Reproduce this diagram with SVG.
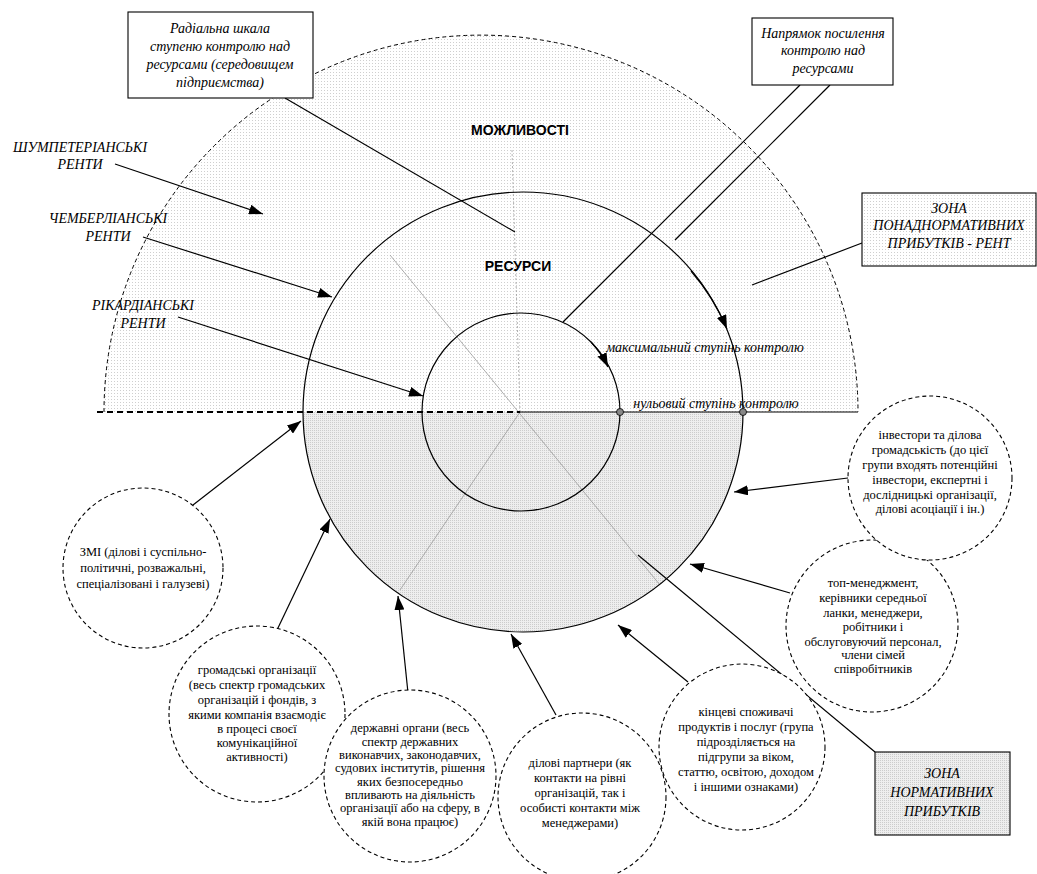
<svg xmlns="http://www.w3.org/2000/svg" width="1037" height="874" viewBox="0 0 1037 874">
<defs>
<pattern id="dotL" width="3" height="3" patternUnits="userSpaceOnUse"><rect width="3" height="3" fill="#ffffff"/><rect width="1" height="1" fill="#cfcfcf"/></pattern>
<pattern id="dotD" width="2" height="2" patternUnits="userSpaceOnUse"><rect width="2" height="2" fill="#eeeeee"/><rect width="1" height="1" fill="#cccccc"/></pattern>
<marker id="ah" viewBox="0 0 14 10" refX="14" refY="5" markerWidth="14" markerHeight="10" markerUnits="userSpaceOnUse" orient="auto"><path d="M0,0 L14,5 L0,10 z" fill="#000"/></marker>
</defs>
<style>
.ln{stroke:#000;stroke-width:1.2;fill:none}
.gl{stroke:#999;stroke-width:0.8;fill:none}
.ci{stroke:#000;stroke-width:1.1;fill:#fff;stroke-dasharray:4,3}
.it{font-style:italic;font-size:14px;fill:#000;text-anchor:middle}
.tx{font-size:12.5px;fill:#000;text-anchor:middle}
.bd{font-weight:bold;font-size:14px;fill:#000;text-anchor:middle}
.bx{stroke:#000;stroke-width:1.1}
</style>

<g id="zones">
<path d="M104 412 A377 377 0 0 1 858 412 Z" fill="url(#dotL)"/>
<path d="M303 412 A220 220 0 0 0 743 412 Z" fill="url(#dotD)"/>
<path d="M104 412 A377 377 0 0 1 858 412" fill="none" stroke="#000" stroke-width="1" stroke-dasharray="4,3"/>
<line x1="390" y1="255" x2="660" y2="585" class="gl"/>
<line x1="520" y1="412" x2="400" y2="590" class="gl"/>
<line x1="520" y1="412" x2="512" y2="150" class="gl" stroke-dasharray="2,2"/>
<line x1="97" y1="412" x2="520" y2="412" stroke="#000" stroke-width="2" stroke-dasharray="6,4"/>
<line x1="520" y1="412" x2="858" y2="412" stroke="#000" stroke-width="1.2"/>
<circle cx="523" cy="412" r="220" class="ln"/>
<circle cx="521" cy="412" r="99" class="ln"/>
<circle cx="620" cy="412" r="3.5" fill="#888" stroke="#000" stroke-width="0.8"/>
<circle cx="743" cy="412" r="3.5" fill="#888" stroke="#000" stroke-width="0.8"/>
<g font-family="Liberation Sans, Arial, sans-serif">
<text x="520" y="135" class="bd">МОЖЛИВОСТІ</text>
<text x="518" y="271" class="bd">РЕСУРСИ</text>
</g>
<g font-family="Liberation Serif, Times New Roman, DejaVu Serif, serif">
<text x="705" y="352" class="it" font-size="14.5">максимальний ступінь контролю</text>
<text x="716" y="408" class="it" font-size="14.5">нульовий ступінь контролю</text>
</g>
</g>

<g id="connectors">
<path d="M591 342 A99 99 0 0 1 608 367" class="ln" marker-end="url(#ah)"/>
<path d="M691 271 A220 220 0 0 1 727 329" class="ln" marker-end="url(#ah)"/>
<line x1="115" y1="164" x2="263" y2="214" class="ln" marker-end="url(#ah)"/>
<line x1="143" y1="237" x2="332" y2="297" class="ln" marker-end="url(#ah)"/>
<line x1="178" y1="317" x2="423" y2="396" class="ln" marker-end="url(#ah)"/>
<line x1="285" y1="98" x2="515" y2="232" class="ln"/>
<line x1="800" y1="85" x2="563" y2="322" class="ln"/>
<line x1="830" y1="85" x2="675" y2="240" class="ln"/>
<line x1="862" y1="243" x2="752" y2="285" class="ln"/>
<line x1="875" y1="752" x2="638" y2="555" class="ln"/>
<line x1="856" y1="477" x2="734" y2="492" class="ln" marker-end="url(#ah)"/>
<line x1="790" y1="593" x2="690" y2="564" class="ln" marker-end="url(#ah)"/>
<line x1="688" y1="682" x2="618" y2="625" class="ln" marker-end="url(#ah)"/>
<line x1="556" y1="715" x2="511" y2="634" class="ln" marker-end="url(#ah)"/>
<line x1="408" y1="693" x2="398" y2="596" class="ln" marker-end="url(#ah)"/>
<line x1="277" y1="630" x2="330" y2="519" class="ln" marker-end="url(#ah)"/>
<line x1="193" y1="505" x2="301" y2="421" class="ln" marker-end="url(#ah)"/>
</g>

<g font-family="Liberation Serif, Times New Roman, DejaVu Serif, serif">
<g id="labels-rents">
<text x="80" y="152" class="it">ШУМПЕТЕРІАНСЬКІ</text>
<text x="80" y="169" class="it">РЕНТИ</text>
<text x="108" y="223" class="it">ЧЕМБЕРЛІАНСЬКІ</text>
<text x="108" y="241" class="it">РЕНТИ</text>
<text x="143" y="310" class="it">РІКАРДІАНСЬКІ</text>
<text x="143" y="328" class="it">РЕНТИ</text>
</g>

<g id="box-scale">
<rect x="128" y="12" width="185" height="86" fill="#fff" class="bx"/>
<text x="220" y="33" class="it" font-size="15">Радіальна шкала</text>
<text x="220" y="51" class="it" font-size="15">ступеню контролю над</text>
<text x="220" y="69" class="it" font-size="15">ресурсами (середовищем</text>
<text x="220" y="87" class="it" font-size="15">підприємства)</text>
</g>

<g id="box-direction">
<rect x="752" y="18" width="141" height="67" fill="#fff" class="bx"/>
<text x="823" y="38" class="it">Напрямок посилення</text>
<text x="823" y="55" class="it">контролю над</text>
<text x="823" y="73" class="it">ресурсами</text>
</g>

<g id="box-super">
<rect x="862" y="193" width="174" height="73" fill="url(#dotL)" class="bx"/>
<text x="949" y="213" class="it" font-size="15.5">ЗОНА</text>
<text x="949" y="230" class="it" font-size="15.5">ПОНАДНОРМАТИВНИХ</text>
<text x="949" y="248" class="it" font-size="15.5">ПРИБУТКІВ - РЕНТ</text>
</g>

<g id="box-normal">
<rect x="875" y="752" width="135" height="83" fill="url(#dotD)" class="bx"/>
<text x="942" y="778" class="it" font-size="16">ЗОНА</text>
<text x="942" y="797" class="it" font-size="16">НОРМАТИВНИХ</text>
<text x="942" y="816" class="it" font-size="16">ПРИБУТКІВ</text>
</g>

<g id="n-zmi">
<circle cx="143" cy="568" r="80" class="ci"/>
<text x="143" y="556" class="tx">ЗМІ (ділові і суспільно-</text>
<text x="143" y="572" class="tx">політичні, розважальні,</text>
<text x="143" y="588" class="tx">спеціалізовані і галузеві)</text>
</g>

<g id="n-civil">
<circle cx="257" cy="714" r="88" class="ci"/>
<text x="257" y="674" class="tx">громадські організації</text>
<text x="257" y="689" class="tx">(весь спектр громадських</text>
<text x="257" y="704" class="tx">організацій і фондів, з</text>
<text x="257" y="719" class="tx">якими компанія взаємодіє</text>
<text x="257" y="733" class="tx">в процесі своєї</text>
<text x="257" y="747" class="tx">комунікаційної</text>
<text x="257" y="761" class="tx">активності)</text>
</g>

<g id="n-gov">
<circle cx="410" cy="776" r="86" class="ci"/>
<text x="410" y="732" class="tx">державні органи (весь</text>
<text x="410" y="746" class="tx">спектр державних</text>
<text x="410" y="759" class="tx">виконавчих, законодавчих,</text>
<text x="410" y="772" class="tx">судових інститутів, рішення</text>
<text x="410" y="786" class="tx">яких безпосередньо</text>
<text x="410" y="799" class="tx">впливають на діяльність</text>
<text x="410" y="812" class="tx">організації або на сферу, в</text>
<text x="410" y="826" class="tx">якій вона працює)</text>
</g>

<g id="n-partners">
<circle cx="582" cy="797" r="84" class="ci"/>
<text x="580" y="767" class="tx">ділові партнери (як</text>
<text x="580" y="782" class="tx">контакти на рівні</text>
<text x="580" y="797" class="tx">організацій, так і</text>
<text x="580" y="812" class="tx">особисті контакти між</text>
<text x="580" y="827" class="tx">менеджерами)</text>
</g>

<g id="n-consumers">
<circle cx="742" cy="747" r="83" class="ci"/>
<text x="746" y="716" class="tx">кінцеві споживачі</text>
<text x="746" y="731" class="tx">продуктів і послуг (група</text>
<text x="746" y="746" class="tx">підрозділяється на</text>
<text x="746" y="761" class="tx">підгрупи за віком,</text>
<text x="746" y="776" class="tx">статтю, освітою, доходом</text>
<text x="746" y="791" class="tx">і іншими ознаками)</text>
</g>

<g id="n-staff">
<circle cx="872" cy="626" r="86" class="ci"/>
<text x="873" y="587" class="tx">топ-менеджмент,</text>
<text x="873" y="602" class="tx">керівники середньої</text>
<text x="873" y="617" class="tx">ланки, менеджери,</text>
<text x="873" y="631" class="tx">робітники і</text>
<text x="873" y="646" class="tx">обслуговуючий персонал,</text>
<text x="873" y="659" class="tx">члени сімей</text>
<text x="873" y="673" class="tx">співробітників</text>
</g>

<g id="n-investors">
<circle cx="930" cy="478" r="82" class="ci"/>
<text x="930" y="439" class="tx">інвестори та ділова</text>
<text x="930" y="454" class="tx">громадськість (до цієї</text>
<text x="930" y="469" class="tx">групи входять потенційні</text>
<text x="930" y="484" class="tx">інвестори, експертні і</text>
<text x="930" y="499" class="tx">дослідницькі організації,</text>
<text x="930" y="513" class="tx">ділові асоціації і ін.)</text>
</g>
</g>
</svg>
